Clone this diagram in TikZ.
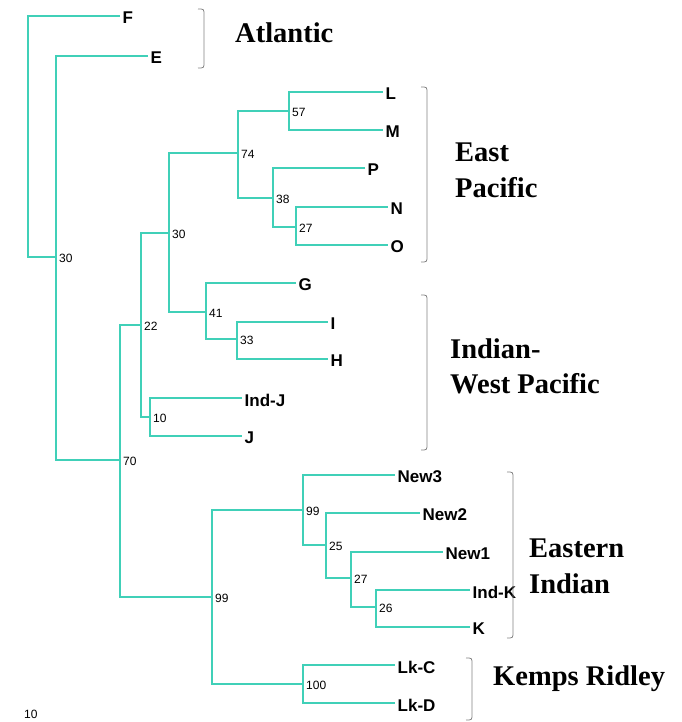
\documentclass[tikz,border=0pt]{standalone}
\usepackage{fontspec}
\setmainfont{Liberation Serif}
\setsansfont{Liberation Sans}
\definecolor{branch}{RGB}{64,208,184}
\definecolor{brk}{RGB}{130,130,130}
\tikzset{
  br/.style={draw=branch, line width=1.5pt},
  leaf/.style={anchor=west, inner sep=2.5pt, yshift=-2pt, font=\sffamily\bfseries\fontsize{17}{18}\selectfont},
  supp/.style={anchor=west, inner sep=1pt, xshift=2pt, yshift=-1.5pt, font=\sffamily\fontsize{12}{13}\selectfont},
  region/.style={anchor=base west, inner sep=0pt, font=\rmfamily\bfseries\fontsize{28.5}{30}\selectfont},
  brack/.style={draw=brk, line width=0.8pt}
}
\begin{document}
\begin{tikzpicture}[x=1pt,y=-1pt]
\useasboundingbox (0,0) rectangle (681,722);
% internal nodes
\coordinate (rootL) at (28,257);
\coordinate (n30r) at (56,257);
\coordinate (n70) at (120,460);
\coordinate (n22) at (141,325);
\coordinate (n30u) at (169,233);
\coordinate (n74) at (238,153);
\coordinate (n57) at (289,111);
\coordinate (n38) at (273,198);
\coordinate (n27a) at (296,227);
\coordinate (n41) at (206,312);
\coordinate (n33) at (237,339);
\coordinate (n10) at (150,417);
\coordinate (n99a) at (212,597);
\coordinate (n99b) at (303,510);
\coordinate (n25) at (326,545);
\coordinate (n27b) at (351,578);
\coordinate (n26) at (376,607);
\coordinate (n100) at (303,684);
% leaf ends
\coordinate (eF) at (120,16);
\coordinate (eE) at (148,56);
\coordinate (eL) at (383,92);
\coordinate (eM) at (383,130);
\coordinate (eP) at (365,168);
\coordinate (eN) at (388,207);
\coordinate (eO) at (388,245);
\coordinate (eG) at (296,283);
\coordinate (eI) at (328,322);
\coordinate (eH) at (328,359);
\coordinate (eIndJ) at (242,398);
\coordinate (eJ) at (242,436);
\coordinate (eNew3) at (395,475);
\coordinate (eNew2) at (420,513);
\coordinate (eNew1) at (443,552);
\coordinate (eIndK) at (470,590);
\coordinate (eK) at (470,627);
\coordinate (eLkC) at (395,665);
\coordinate (eLkD) at (395,703);
% leaf labels
\node[leaf] (F) at (eF) {F};
\node[leaf] (E) at (eE) {E};
\node[leaf] (L) at (eL) {L};
\node[leaf] (M) at (eM) {M};
\node[leaf] (P) at (eP) {P};
\node[leaf] (N) at (eN) {N};
\node[leaf] (O) at (eO) {O};
\node[leaf] (G) at (eG) {G};
\node[leaf] (I) at (eI) {I};
\node[leaf] (H) at (eH) {H};
\node[leaf] (IndJ) at (eIndJ) {Ind-J};
\node[leaf] (J) at (eJ) {J};
\node[leaf] (New3) at (eNew3) {New3};
\node[leaf] (New2) at (eNew2) {New2};
\node[leaf] (New1) at (eNew1) {New1};
\node[leaf] (IndK) at (eIndK) {Ind-K};
\node[leaf] (K) at (eK) {K};
\node[leaf] (LkC) at (eLkC) {Lk-C};
\node[leaf] (LkD) at (eLkD) {Lk-D};
% branches
\draw[br] (n30r) -- (rootL) |- (eF);
\draw[br] (n30r) |- (eE);
\draw[br] (n30r) |- (n70);
\draw[br] (n70) |- (n22);
\draw[br] (n70) |- (n99a);
\draw[br] (n22) |- (n30u);
\draw[br] (n22) |- (n10);
\draw[br] (n30u) |- (n74);
\draw[br] (n30u) |- (n41);
\draw[br] (n74) |- (n57);
\draw[br] (n74) |- (n38);
\draw[br] (n57) |- (eL);
\draw[br] (n57) |- (eM);
\draw[br] (n38) |- (eP);
\draw[br] (n38) |- (n27a);
\draw[br] (n27a) |- (eN);
\draw[br] (n27a) |- (eO);
\draw[br] (n41) |- (eG);
\draw[br] (n41) |- (n33);
\draw[br] (n33) |- (eI);
\draw[br] (n33) |- (eH);
\draw[br] (n10) |- (eIndJ);
\draw[br] (n10) |- (eJ);
\draw[br] (n99a) |- (n99b);
\draw[br] (n99a) |- (n100);
\draw[br] (n99b) |- (eNew3);
\draw[br] (n99b) |- (n25);
\draw[br] (n25) |- (eNew2);
\draw[br] (n25) |- (n27b);
\draw[br] (n27b) |- (eNew1);
\draw[br] (n27b) |- (n26);
\draw[br] (n26) |- (eIndK);
\draw[br] (n26) |- (eK);
\draw[br] (n100) |- (eLkC);
\draw[br] (n100) |- (eLkD);
% support values
\node[supp] (s30r) at (n30r) {30};
\node[supp] (s70) at (n70) {70};
\node[supp] (s22) at (n22) {22};
\node[supp] (s30u) at (n30u) {30};
\node[supp] (s74) at (n74) {74};
\node[supp] (s57) at (n57) {57};
\node[supp] (s38) at (n38) {38};
\node[supp] (s27a) at (n27a) {27};
\node[supp] (s41) at (n41) {41};
\node[supp] (s33) at (n33) {33};
\node[supp] (s10) at (n10) {10};
\node[supp] (s99a) at (n99a) {99};
\node[supp] (s99b) at (n99b) {99};
\node[supp] (s25) at (n25) {25};
\node[supp] (s27b) at (n27b) {27};
\node[supp] (s26) at (n26) {26};
\node[supp] (s100) at (n100) {100};
\node[supp] (scale) at (21,713) {10};
% brackets
\draw[brack] (198,9) .. controls (204,9) .. (204,15) -- (204,62) .. controls (204,68) .. (198,68);
\draw[brack] (421,87) .. controls (427,87) .. (427,93) -- (427,256) .. controls (427,262) .. (421,262);
\draw[brack] (421,295) .. controls (427,295) .. (427,301) -- (427,444) .. controls (427,450) .. (421,450);
\draw[brack] (507,472) .. controls (513,472) .. (513,478) -- (513,632) .. controls (513,638) .. (507,638);
\draw[brack] (466,658) .. controls (472,658) .. (472,664) -- (472,714) .. controls (472,720) .. (466,720);
% region labels
\node[region] (atl) at (235,43) {Atlantic};
\node[region] (ep1) at (455,162) {East};
\node[region] (ep2) at (455,197) {Pacific};
\node[region] (iw1) at (450,358) {Indian-};
\node[region] (iw2) at (450,393) {West Pacific};
\node[region] (ei1) at (529,557) {Eastern};
\node[region] (ei2) at (529,593) {Indian};
\node[region] (kr) at (493,685) {Kemps Ridley};
\end{tikzpicture}
\end{document}
